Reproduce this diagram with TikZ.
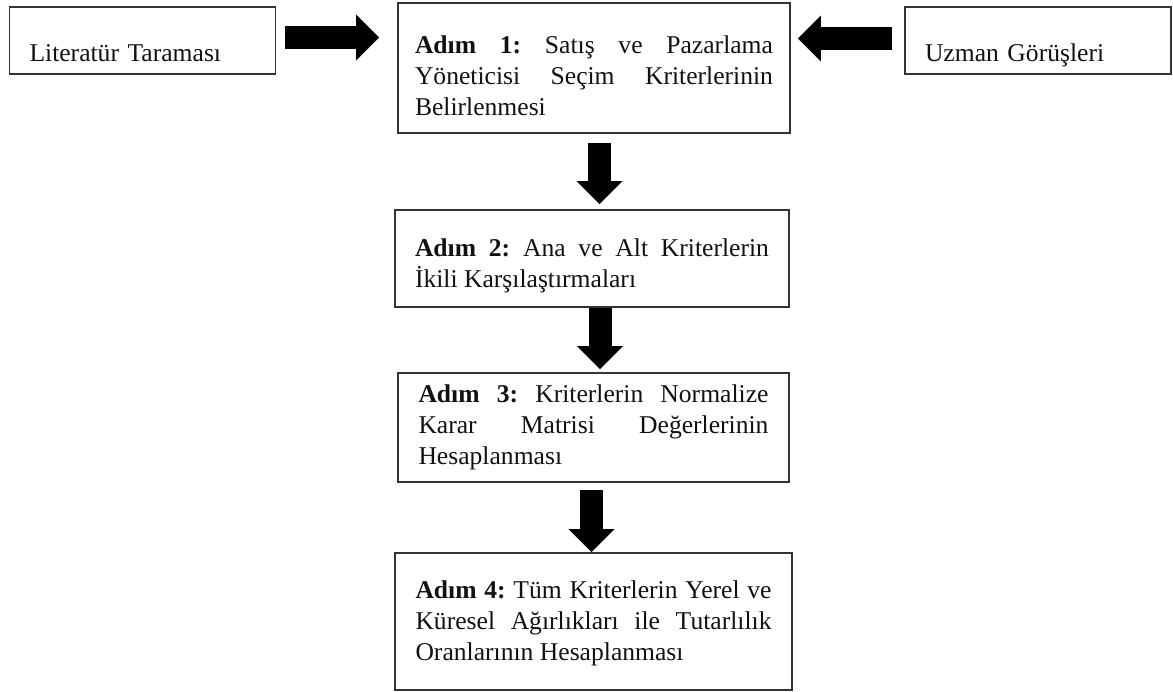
\documentclass[tikz,border=0pt]{standalone}
\usepackage{fontspec}
\setmainfont{Liberation Serif}
\usepackage{xcolor}
\usepackage{tikz}
\usetikzlibrary{arrows.meta,positioning}
\definecolor{frame}{HTML}{333333}
\definecolor{ink}{HTML}{111111}
\tikzset{
  sidebox/.style={draw=frame, line width=0.8pt, inner sep=0pt, minimum width=133pt,
                  minimum height=33.5pt, text width=113pt, align=left, text height=20.5pt,
                  text depth=0pt, font=\fontsize{12.8}{15.5}\selectfont\frenchspacing\color{ink}},
  stepbox/.style={draw=frame, line width=0.8pt, inner sep=0pt, align=justify,
                  font=\fontsize{12.8}{15.5}\selectfont\frenchspacing\color{ink}},
  bigarrow/.style={draw=black, line width=11.5pt,
                   -{Triangle[length=11.5pt,width=23pt,line width=0pt]}}
}
\newcommand{\padtop}[1]{\rule{0pt}{#1}}

\begin{document}
\begin{tikzpicture}[x=0.5pt,y=-0.5pt]
  \useasboundingbox (0,0) rectangle (1173,691);

  \node[sidebox] (lit) at (142.5,40.5) {Literatür Taraması};
  \node[sidebox] (uzman) at (1038,40.5) {Uzman Görüşleri};

  \node[stepbox, minimum width=196pt, minimum height=65pt, text width=179pt] (step1) at (594,68)
    {\padtop{16.7pt}\textbf{Adım 1:} Satış ve Pazarlama\linebreak
     Yöneticisi Seçim Kriterlerinin\linebreak Belirlenmesi};
  \node[stepbox, minimum width=197pt, minimum height=48.5pt, text width=177pt] (step2) at (592,258.5)
    {\padtop{16.2pt}\textbf{Adım 2:} Ana ve Alt Kriterlerin\linebreak
     İkili Karşılaştırmaları};
  \node[stepbox, minimum width=195.5pt, minimum height=54.5pt, text width=175pt] (step3) at (593.5,427.5)
    {\textbf{Adım 3:} Kriterlerin Normalize\linebreak
     Karar Matrisi Değerlerinin\linebreak Hesaplanması};
  \node[stepbox, minimum width=198.5pt, minimum height=68.5pt, text width=178pt] (step4) at (593.5,621.5)
    {\padtop{11.2pt}\textbf{Adım 4:} Tüm Kriterlerin Yerel ve\linebreak
     Küresel Ağırlıkları ile Tutarlılık\linebreak Oranlarının Hesaplanması};

  \coordinate (litout) at ([yshift=1.5pt]lit.east);
  \coordinate (uzmanout) at ([yshift=1pt]uzman.west);
  \coordinate (s1out) at ([xshift=2.75pt]step1.south);
  \coordinate (s2out) at ([xshift=4pt]step2.south);
  \coordinate (s3out) at ([xshift=-1pt]step3.south);

  \draw[bigarrow, shorten <=4.5pt, shorten >=9pt] (litout) -- (litout -| step1.west);
  \draw[bigarrow, shorten <=6pt, shorten >=3.5pt] (uzmanout) -- (uzmanout -| step1.east);
  \draw[bigarrow, shorten <=4.5pt, shorten >=2.5pt] (s1out) -- (s1out |- step2.north);
  \draw[bigarrow, shorten >=1.5pt] (s2out) -- (s2out |- step3.north);
  \draw[bigarrow, shorten <=3.5pt] (s3out) -- (s3out |- step4.north);
\end{tikzpicture}
\end{document}
